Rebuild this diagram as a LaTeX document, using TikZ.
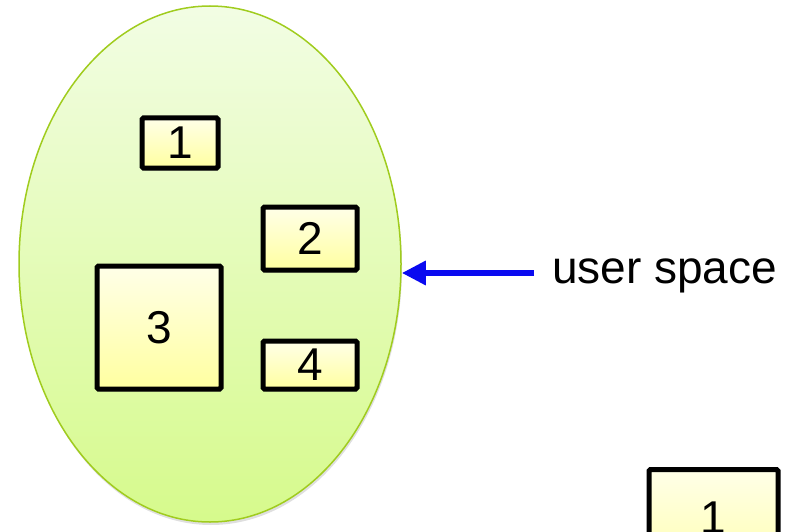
\documentclass[tikz,border=0pt]{standalone}
\usepackage{fontspec}
\setmainfont{Liberation Sans}
\usetikzlibrary{shapes.geometric,arrows.meta,shadows}

\definecolor{spacetop}{RGB}{242,253,228}
\definecolor{spacebot}{RGB}{214,250,140}
\definecolor{spaceedge}{RGB}{160,204,30}
\definecolor{boxtop}{RGB}{255,255,232}
\definecolor{boxbot}{RGB}{255,255,160}
\definecolor{arrowblue}{RGB}{10,10,240}

\tikzset{
  region/.style={ellipse, draw=spaceedge, line width=1.5pt, inner sep=0pt,
    top color=spacetop, bottom color=spacebot,
    drop shadow={shadow xshift=1pt, shadow yshift=-3pt, opacity=0.25}},
  pagebox/.style={draw=black, line width=5pt, rounded corners=1.5pt, inner sep=0pt,
    top color=boxtop, bottom color=boxbot, font=\fontsize{46}{46}\selectfont,
    drop shadow={shadow xshift=1.5pt, shadow yshift=-2.5pt, opacity=0.3}},
  pointer/.style={draw=arrowblue, line width=6pt,
    -{Triangle[length=24pt,width=23pt]}},
  caption/.style={font=\fontsize{46}{46}\selectfont, inner sep=0pt}
}

\begin{document}
\begin{tikzpicture}[x=1pt,y=-1pt]
  \useasboundingbox (0,0) rectangle (800,532);
  \clip (0,0) rectangle (800,532);

  % address space of the process
  \node[region, minimum width=382pt, minimum height=516pt] (space) at (210,264) {};

  % pages inside the address space
  \node[pagebox, minimum width=76pt, minimum height=50pt] (p1) at (180,143) {1};
  \node[pagebox, minimum width=94pt, minimum height=63pt] (p2) at (310,238.5) {2};
  \node[pagebox, minimum width=124pt, minimum height=123pt] (p3) at (159,327.5) {3};
  \node[pagebox, minimum width=94pt, minimum height=48pt] (p4) at (310,365) {4};

  % page shown outside the address space
  \node[pagebox, minimum width=129pt, minimum height=130pt, anchor=north] (q1) at (713.5,467) {};
  \node[caption, anchor=base] (q1num) at (713.5,533) {1};

  % label and pointer
  \node[caption, anchor=base west] (label) at (552,283) {user space};
  \coordinate (tail) at (534,273);
  \draw[pointer] (tail) -- (tail -| space.east);
\end{tikzpicture}
\end{document}
